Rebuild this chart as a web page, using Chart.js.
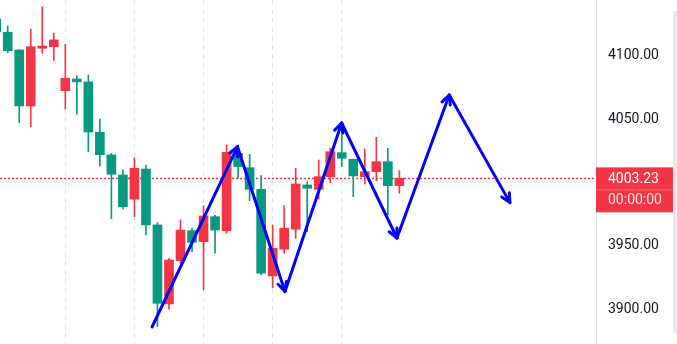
<!DOCTYPE html>
<html lang="en">
<head>
    <meta charset="UTF-8">
    <title>Candles with arrows</title>
    <script src="https://cdn.jsdelivr.net/npm/chart.js@4"></script>
    <style>
        html, body { margin: 0; padding: 0; background: #ffffff; }
        .chart-box { position: relative; width: 677px; height: 344px; }
    </style>
</head>
<body>
    <div class="chart-box"><canvas id="chart"></canvas></div>

    <script>
        // candle values, one per bar
        const opens  = [4128.9, 4118.5, 4104.5, 4060.3, 4105.8, 4107.1, 4072.4, 4081.6, 4079.3, 4039.6, 4021.7, 4005.9,
                        3986.8, 4010.6, 3966.5, 3904.2, 3938.3, 3962.0, 3953.3, 3973.0, 3962.0, 4023.0, 4011.7, 3994.6,
                        3926.3, 3947.3, 3963.1, 3998.0, 3994.6, 4004.6, 4023.5, 4018.3, 4004.6, 4008.5, 4016.4, 3997.5];
        const highs  = [4130.5, 4123.4, 4104.8, 4120.8, 4138.6, 4117.7, 4109.0, 4084.2, 4084.8, 4050.1, 4023.0, 4009.9,
                        4019.3, 4013.8, 3968.3, 3940.2, 3970.4, 3963.9, 3981.7, 3974.0, 4029.6, 4029.6, 4022.2, 4005.4,
                        3966.5, 3981.7, 4011.2, 4000.6, 4017.7, 4027.0, 4044.0, 4018.5, 4026.2, 4035.6, 4027.0, 4009.3];
        const lows   = [4116.5, 4102.4, 4047.2, 4044.0, 4101.9, 4096.1, 4058.0, 4053.8, 4024.3, 4013.0, 3971.5, 3978.9,
                        3973.0, 3958.6, 3886.3, 3900.0, 3935.7, 3945.4, 3915.2, 3944.2, 3959.9, 4003.3, 3985.6, 3927.0,
                        3917.0, 3944.0, 3956.0, 3961.2, 3986.8, 3999.8, 4012.5, 3988.8, 3998.8, 4001.4, 3974.4, 3991.5];
        const closes = [4118.7, 4103.9, 4060.3, 4107.1, 4107.6, 4112.4, 4082.2, 4079.3, 4039.8, 4021.9, 4006.5, 3980.9,
                        4011.2, 3966.5, 3904.7, 3938.9, 3962.5, 3952.8, 3973.6, 3962.5, 4023.8, 4012.5, 3994.6, 3928.4,
                        3948.1, 3963.9, 3998.8, 3995.4, 4004.6, 4024.3, 4019.1, 4005.1, 4008.5, 4016.4, 3997.5, 4003.23];

        // price axis labels and vertical (time) grid positions, in bar index
        const priceTicks = [3900, 3950, 4050, 4100];
        const timeTicks = [6, 12, 18, 24, 30];

        // hand-drawn zigzag: bar index / price of each turning point
        const arrowBars   = [13.53, 20.95, 25.07, 29.99, 34.79, 39.33, 44.6];
        const arrowPrices = [3886.0, 4028.2, 3914.0, 4046.9, 3956.2, 4069.0, 3984.1];

        const lastPrice = closes[closes.length - 1];
        const UP = '#F23645';    // red = rising candle here
        const DOWN = '#089981';  // green = falling candle

        const candleColor = closes.map((c, i) => c >= opens[i] ? UP : DOWN);
        const wickData = lows.map((lo, i) => ({ x: i, y: [lo, highs[i]] }));
        const bodyData = opens.map((o, i) => ({ x: i, y: [Math.min(o, closes[i]), Math.max(o, closes[i])] }));

        const overlay = {
            id: 'overlay',
            beforeDatasetsDraw(chart) {
                // dotted last price line
                const { ctx, chartArea } = chart;
                const y = Math.round(chart.scales.y.getPixelForValue(lastPrice)) + 0.5;
                ctx.save();
                ctx.strokeStyle = UP;
                ctx.lineWidth = 1.5;
                ctx.setLineDash([2, 2]);
                ctx.beginPath();
                ctx.moveTo(chartArea.left, y);
                ctx.lineTo(chartArea.right, y);
                ctx.stroke();
                ctx.restore();
            },
            afterDatasetsDraw(chart) {
                const { ctx } = chart;
                const xs = chart.scales.x, ys = chart.scales.y;
                const pts = arrowBars.map((b, i) => [xs.getPixelForValue(b), ys.getPixelForValue(arrowPrices[i])]);
                ctx.save();
                ctx.strokeStyle = '#0000FF';
                ctx.lineWidth = 3;
                ctx.lineCap = 'round';
                ctx.lineJoin = 'round';
                for (let i = 1; i < pts.length; i++) {
                    const [x0, y0] = pts[i - 1];
                    const [x1, y1] = pts[i];
                    ctx.beginPath();
                    ctx.moveTo(x0, y0);
                    ctx.lineTo(x1, y1);
                    ctx.stroke();
                    // open arrow head
                    const a = Math.atan2(y1 - y0, x1 - x0);
                    const len = 10, spread = 0.45;
                    ctx.beginPath();
                    ctx.moveTo(x1 - len * Math.cos(a - spread), y1 - len * Math.sin(a - spread));
                    ctx.lineTo(x1, y1);
                    ctx.lineTo(x1 - len * Math.cos(a + spread), y1 - len * Math.sin(a + spread));
                    ctx.stroke();
                }
                ctx.restore();
            },
            afterDraw(chart) {
                // price label on the axis
                const { ctx, chartArea } = chart;
                const y = chart.scales.y.getPixelForValue(lastPrice);
                const left = chartArea.right, right = chart.width - 4;
                ctx.save();
                ctx.fillStyle = UP;
                ctx.fillRect(left, y - 11, right - left, 45);
                ctx.fillStyle = 'rgba(255,255,255,0.25)';
                ctx.fillRect(left, y + 11, right - left, 1);
                ctx.font = '14px Roboto';
                ctx.textBaseline = 'middle';
                ctx.fillStyle = '#ffffff';
                ctx.fillText(lastPrice.toFixed(2), left + 12, y + 1);
                ctx.fillStyle = 'rgba(255,255,255,0.85)';
                ctx.fillText('00:00:00', left + 12, y + 22);
                // panel edge on the far right
                ctx.strokeStyle = '#E3E6EE';
                ctx.lineWidth = 3;
                ctx.lineCap = 'round';
                ctx.beginPath();
                ctx.moveTo(chart.width - 2, 12);
                ctx.lineTo(chart.width - 2, chart.height - 12);
                ctx.stroke();
                ctx.restore();
            }
        };

        new Chart(document.getElementById('chart'), {
            type: 'bar',
            data: {
                datasets: [
                    {
                        label: 'wick',
                        data: wickData,
                        backgroundColor: candleColor,
                        barThickness: 1,
                        grouped: false,
                        borderWidth: 0
                    },
                    {
                        label: 'body',
                        data: bodyData,
                        backgroundColor: candleColor,
                        barThickness: 9,
                        grouped: false,
                        borderWidth: 0,
                        minBarLength: 2
                    }
                ]
            },
            options: {
                responsive: true,
                maintainAspectRatio: false,
                animation: false,
                layout: { padding: 0, autoPadding: false },
                plugins: {
                    legend: { display: false },
                    tooltip: { enabled: false }
                },
                scales: {
                    x: {
                        type: 'linear',
                        offset: false,
                        min: 0.33,
                        max: 52.07,
                        afterBuildTicks: s => { s.ticks = timeTicks.map(v => ({ value: v })); },
                        afterFit: s => { s.height = 0; s.paddingLeft = 0; s.paddingRight = 0; },
                        ticks: { display: false },
                        grid: { color: '#E0E3EB', lineWidth: 1, drawTicks: false, offset: false },
                        border: { display: false, dash: [5, 4] }
                    },
                    y: {
                        position: 'right',
                        min: 3872.6,
                        max: 4143.9,
                        afterBuildTicks: s => { s.ticks = priceTicks.map(v => ({ value: v })); },
                        afterFit: s => { s.width = 81; s.paddingTop = 0; s.paddingBottom = 0; },
                        ticks: {
                            padding: 12,
                            color: '#131722',
                            font: { family: 'Roboto', size: 14 },
                            callback: v => v.toFixed(2)
                        },
                        grid: { display: false, drawTicks: false },
                        border: { display: true, color: '#E0E3EB' }
                    }
                }
            },
            plugins: [overlay]
        });
    </script>
</body>
</html>
